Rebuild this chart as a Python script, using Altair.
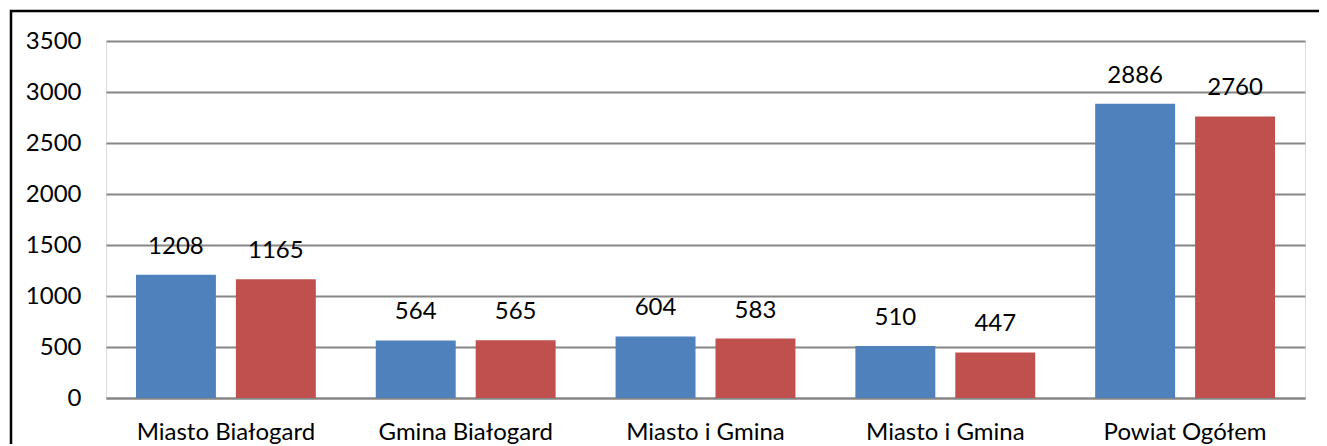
import altair as alt
import pandas as pd

categories = ["Miasto Białogard", "Gmina Białogard", "Miasto i Gmina", "Miasto i Gmina ", "Powiat Ogółem"]
series_names = ["Seria 1", "Seria 2"]
values_1 = [1208, 564, 604, 510, 2886]
values_2 = [1165, 565, 583, 447, 2760]
y_ticks = [0, 500, 1000, 1500, 2000, 2500, 3000, 3500]
colors = ["#4F81BD", "#C0504D"]

rows = []
for c, a, b in zip(categories, values_1, values_2):
    rows.append({"kategoria": c, "seria": series_names[0], "wartosc": a})
    rows.append({"kategoria": c, "seria": series_names[1], "wartosc": b})
df = pd.DataFrame(rows)

FONT = "Lato"
FS = 24

x_enc = alt.X("kategoria:N", sort=categories,
              scale=alt.Scale(paddingInner=0.25, paddingOuter=0.125),
              axis=alt.Axis(title=None, labelAngle=0, ticks=False, domain=True,
                            domainColor="#868686", domainWidth=2,
                            labelFont=FONT, labelFontSize=FS, labelColor="black",
                            labelPadding=22, labelBaseline="top"))
xo_enc = alt.XOffset("seria:N", sort=series_names,
                     scale=alt.Scale(paddingInner=0.2, paddingOuter=0))
y_enc = alt.Y("wartosc:Q",
              scale=alt.Scale(domain=[0, 3500], nice=False),
              axis=alt.Axis(title=None, values=y_ticks, ticks=False, domain=False,
                            format="d",
                            grid=True, gridColor="#868686", gridWidth=2,
                            labelFont=FONT, labelFontSize=FS, labelColor="black",
                            labelPadding=25))

bars = alt.Chart(df).mark_bar().encode(
    x=x_enc, xOffset=xo_enc, y=y_enc,
    color=alt.Color("seria:N", sort=series_names,
                    scale=alt.Scale(domain=series_names, range=colors), legend=None),
)

labels = alt.Chart(df).mark_text(font=FONT, fontSize=FS, color="black",
                                 baseline="middle", dy=-28).encode(
    x=alt.X("kategoria:N", sort=categories), xOffset=alt.XOffset("seria:N", sort=series_names),
    y="wartosc:Q", text=alt.Text("wartosc:Q", format="d"),
)

one = pd.DataFrame({"f": [0]})
frame = alt.Chart(one).mark_rect(fill="transparent", stroke="black", strokeWidth=2.5).encode(
    x=alt.value(-95), x2=alt.value(1240), y=alt.value(-30), y2=alt.value(600))

chart = alt.layer(frame, bars, labels).properties(
    width=1199, height=357,
    autosize=alt.AutoSizeParams(type="none"),
    padding={"left": 98, "top": 33, "right": 14, "bottom": 46},
).configure_view(stroke=None).configure(background="white")

chart.save("out.html", embed_options={"renderer": "svg", "actions": False})
